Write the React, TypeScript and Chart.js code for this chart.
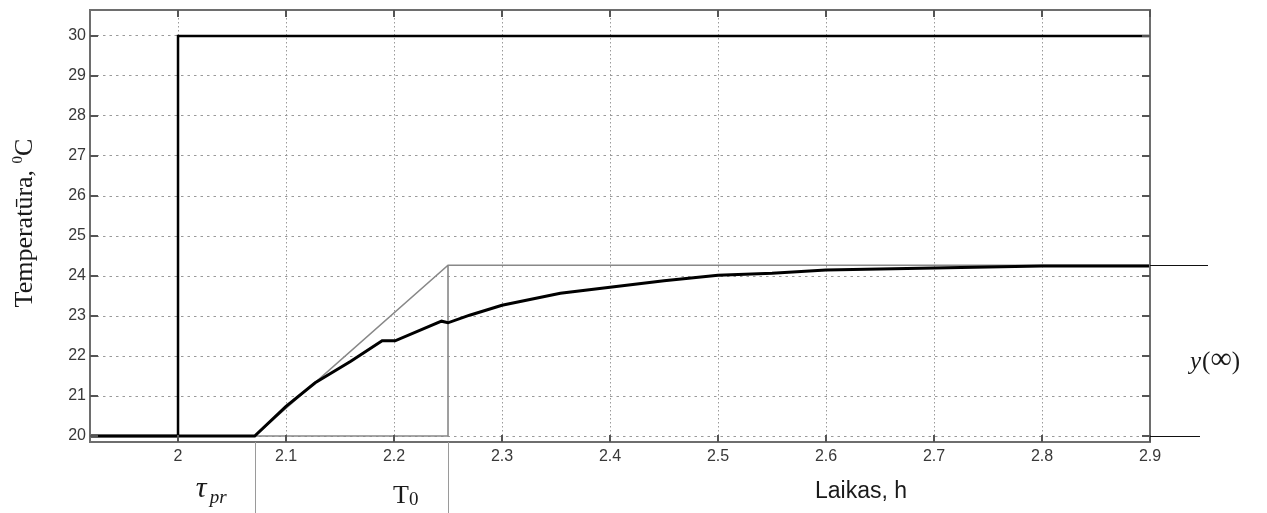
import React, { useEffect, useRef } from "react";
import { Chart, registerables } from "chart.js";

Chart.register(...registerables);

// Axis ranges and ticks
const xMin = 1.9185;
const xMax = 2.9;
const yMin = 19.85;
const yMax = 30.65;
const xTicks = [2, 2.1, 2.2, 2.3, 2.4, 2.5, 2.6, 2.7, 2.8, 2.9];
const xTickLabels = ["2", "2.1", "2.2", "2.3", "2.4", "2.5", "2.6", "2.7", "2.8", "2.9"];
const yTicks = [20, 21, 22, 23, 24, 25, 26, 27, 28, 29, 30];

// Step input (setpoint)
const stepX = [1.9185, 2.0, 2.0, 2.9];
const stepY = [20, 20, 30, 30];

// Measured temperature response
const respX = [1.9185, 2.071, 2.1, 2.127, 2.16, 2.189, 2.201, 2.244, 2.25, 2.27, 2.3, 2.354, 2.4, 2.45, 2.5, 2.55, 2.6, 2.7, 2.8, 2.9];
const respY = [20, 20, 20.74, 21.33, 21.87, 22.38, 22.38, 22.87, 22.83, 23.02, 23.27, 23.57, 23.72, 23.88, 24.02, 24.07, 24.15, 24.2, 24.25, 24.25];

// Tangent construction
const tauPr = 2.071;
const t0End = 2.25;
const yInf = 24.27;
const yStart = 20;
const constrX = [2.9, t0End, tauPr, t0End, t0End];
const constrY = [yInf, yInf, yStart, yStart, yInf];

const toPts = (xs: number[], ys: number[]) => xs.map((v, i) => ({ x: v, y: ys[i] }));

const SERIF = '"Liberation Serif", "DejaVu Serif", serif';

const decoPlugin = {
  id: "deco",
  afterDraw(chart: any) {
    const { ctx, chartArea: a, scales } = chart;
    const xs = scales.x;
    const ys = scales.y;
    const line = (x1: number, y1: number, x2: number, y2: number) => {
      ctx.beginPath();
      ctx.moveTo(x1, y1);
      ctx.lineTo(x2, y2);
      ctx.stroke();
    };
    ctx.save();
    // frame
    ctx.strokeStyle = "#6e6e6e";
    ctx.lineWidth = 2;
    ctx.strokeRect(a.left, a.top, a.right - a.left, a.bottom - a.top);
    // inward tick marks
    ctx.strokeStyle = "#555";
    ctx.lineWidth = 2;
    xTicks.forEach((v) => {
      const px = Math.round(xs.getPixelForValue(v));
      line(px, a.bottom, px, a.bottom - 7);
      line(px, a.top, px, a.top + 7);
    });
    yTicks.forEach((v) => {
      const py = Math.round(ys.getPixelForValue(v));
      line(a.left, py, a.left + 8, py);
      line(a.right, py, a.right - 8, py);
    });
    // guide lines below the axis
    ctx.strokeStyle = "#9a9a9a";
    ctx.lineWidth = 1;
    [tauPr, t0End].forEach((v) => {
      const px = Math.round(xs.getPixelForValue(v)) + 0.5;
      line(px, a.bottom, px, chart.height);
    });
    // extension lines to the right
    ctx.strokeStyle = "#111";
    ctx.lineWidth = 1;
    const pInf = Math.round(ys.getPixelForValue(yInf)) + 0.5;
    const p20 = Math.round(ys.getPixelForValue(yStart)) + 0.5;
    line(a.right, pInf, a.right + 58, pInf);
    line(a.right, p20, a.right + 50, p20);

    // texts
    ctx.fillStyle = "#1a1a1a";
    ctx.textBaseline = "alphabetic";
    ctx.textAlign = "left";
    const tauPx = xs.getPixelForValue(tauPr);
    const t0Px = xs.getPixelForValue(t0End);
    // tau_pr
    ctx.font = "italic 30px " + SERIF;
    ctx.fillText("τ", tauPx - 59, a.bottom + 55);
    ctx.font = "italic 19px " + SERIF;
    ctx.fillText("pr", tauPx - 45, a.bottom + 61);
    // T0
    ctx.font = "26px " + SERIF;
    ctx.fillText("T", t0Px - 55, a.bottom + 61);
    ctx.font = "19px " + SERIF;
    ctx.fillText("0", t0Px - 39, a.bottom + 63);
    // x title
    ctx.font = '23px "Liberation Sans", Arial, sans-serif';
    ctx.fillText("Laikas, h", 815, a.bottom + 56);
    // y(inf)
    let tx = a.right + 40;
    const by = 369;
    ctx.font = "italic 25px " + SERIF;
    ctx.fillText("y", tx, by);
    tx += ctx.measureText("y").width + 1;
    ctx.font = "25px " + SERIF;
    ctx.fillText("(", tx, by);
    tx += ctx.measureText("(").width;
    ctx.font = "30px " + SERIF;
    ctx.fillText("∞", tx, by - 1);
    tx += ctx.measureText("∞").width;
    ctx.font = "25px " + SERIF;
    ctx.fillText(")", tx, by);

    // y title rotated
    ctx.translate(32, 223);
    ctx.rotate(-Math.PI / 2);
    const mainFont = "26px " + SERIF;
    const supFont = "15px " + SERIF;
    ctx.font = mainFont;
    const s1 = "Temperatūra, ";
    const w1 = ctx.measureText(s1).width;
    const w3 = ctx.measureText("C").width;
    ctx.font = supFont;
    const w2 = ctx.measureText("0").width;
    const W = w1 + w2 + w3;
    let cx = -W / 2;
    ctx.font = mainFont;
    ctx.fillText(s1, cx, 0);
    cx += w1;
    ctx.font = supFont;
    ctx.fillText("0", cx, -10);
    cx += w2;
    ctx.font = mainFont;
    ctx.fillText("C", cx, 0);
    ctx.restore();
  },
};

export default function App() {
  const ref = useRef<HTMLCanvasElement | null>(null);
  useEffect(() => {
    if (!ref.current) return;
    const chart = new Chart(ref.current, {
      type: "line",
      data: {
        datasets: [
          {
            data: toPts(stepX, stepY),
            borderColor: "#000",
            borderWidth: 2.5,
            pointRadius: 0,
            tension: 0,
            fill: false,
          },
          {
            data: toPts(respX, respY),
            borderColor: "#000",
            borderWidth: 3,
            pointRadius: 0,
            tension: 0,
            fill: false,
          },
          {
            data: toPts(constrX, constrY),
            borderColor: "#888",
            borderWidth: 1.6,
            pointRadius: 0,
            tension: 0,
            fill: false,
          },
        ],
      },
      options: {
        animation: false,
        responsive: false,
        events: [],
        layout: { padding: { top: 10, right: 117, left: 0, bottom: 0 } },
        plugins: { legend: { display: false }, tooltip: { enabled: false } },
        scales: {
          x: {
            type: "linear",
            min: xMin,
            max: xMax,
            afterBuildTicks: (s: any) => {
              s.ticks = xTicks.map((v) => ({ value: v }));
            },
            afterFit: (s: any) => {
              s.height = 71;
              s.paddingLeft = 0;
              s.paddingRight = 0;
            },
            ticks: {
              autoSkip: false,
              maxRotation: 0,
              padding: 5,
              color: "#383838",
              font: { family: '"Liberation Sans", Arial, sans-serif', size: 16 },
              callback: (v: any) => {
                const i = xTicks.findIndex((t) => Math.abs(t - v) < 1e-9);
                return i >= 0 ? xTickLabels[i] : "";
              },
            },
            grid: { color: "#9a9a9a", lineWidth: 1, drawTicks: false },
            border: { display: false, dash: [1.5, 2.5] },
          },
          y: {
            type: "linear",
            min: yMin,
            max: yMax,
            afterBuildTicks: (s: any) => {
              s.ticks = yTicks.map((v) => ({ value: v }));
            },
            afterFit: (s: any) => {
              s.width = 90;
              s.paddingTop = 0;
              s.paddingBottom = 0;
            },
            ticks: {
              autoSkip: false,
              padding: 4,
              color: "#383838",
              font: { family: '"Liberation Sans", Arial, sans-serif', size: 16 },
              callback: (v: any) => String(v),
            },
            grid: { color: "#9a9a9a", lineWidth: 1, drawTicks: false },
            border: { display: false, dash: [2.5, 4] },
          },
        },
      },
      plugins: [decoPlugin],
    });
    return () => chart.destroy();
  }, []);
  return (
    <div style={{ position: "fixed", left: 0, top: 0, width: 1267, height: 513, background: "#fff" }}>
      <canvas ref={ref} width={1267} height={513} />
    </div>
  );
}
